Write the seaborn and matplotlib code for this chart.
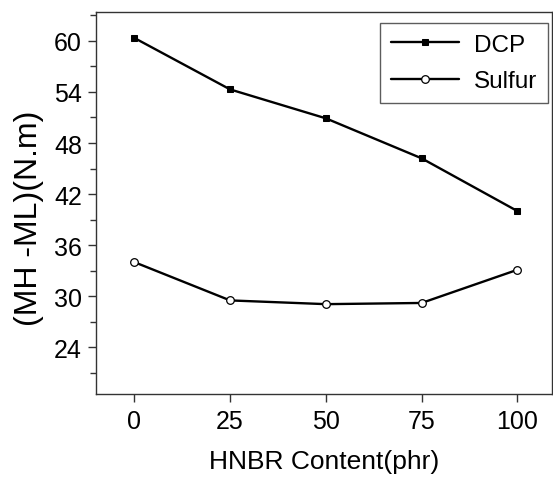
import pandas as pd
import matplotlib
matplotlib.use("Agg")
import matplotlib.pyplot as plt
from matplotlib.ticker import MultipleLocator
import seaborn as sns

hnbr = [0, 25, 50, 75, 100]
dcp = [60.35, 54.3, 50.9, 46.2, 40.0]
sulfur = [34.0, 29.5, 29.06, 29.2, 33.1]

sns.set_style("ticks")
plt.rcParams['font.family'] = ['Liberation Sans', 'DejaVu Sans']
plt.rcParams['text.color'] = 'black'
plt.rcParams['axes.labelcolor'] = 'black'

data = pd.DataFrame({
    "HNBR": hnbr * 2,
    "value": dcp + sulfur,
    "curing": ["DCP"] * 5 + ["Sulfur"] * 5,
})

fig = plt.figure(figsize=(5.53, 4.81), dpi=100)
ax = fig.add_axes([0.1736, 0.1788, 0.8244, 0.7942])

sns.lineplot(data=data[data.curing == "DCP"], x="HNBR", y="value", ax=ax,
             color="black", linewidth=1.7, marker="s", markersize=5,
             markerfacecolor="black", markeredgecolor="black", label="DCP")
sns.lineplot(data=data[data.curing == "Sulfur"], x="HNBR", y="value", ax=ax,
             color="black", linewidth=1.7, marker="o", markersize=5.5,
             markerfacecolor="white", markeredgecolor="black", markeredgewidth=0.9,
             label="Sulfur")

ax.set_xlim(-10, 109)
ax.set_ylim(18.5, 63.4)
ax.set_xticks(hnbr)
ax.set_yticks([24, 30, 36, 42, 48, 54, 60])
ax.yaxis.set_minor_locator(MultipleLocator(3))
ax.tick_params(axis="both", which="major", direction="out", length=6, width=1,
               labelsize=18, colors="#333333", labelcolor="black")
ax.tick_params(axis="y", which="minor", direction="out", length=4, width=1, colors="#333333")
ax.tick_params(axis="x", pad=5)
ax.tick_params(axis="y", pad=4)

for s in ax.spines.values():
    s.set_color("#333333")
    s.set_linewidth(1)

ax.set_xlabel("HNBR Content(phr)", fontsize=19, labelpad=11, color="black")
ax.set_ylabel("(MH -ML)(N.m)", fontsize=23, color="black")
ax.yaxis.set_label_coords(-0.115, 0.463)

leg = ax.legend(loc="upper right", fontsize=17.5, frameon=True, fancybox=False,
                handlelength=2.8, handletextpad=0.6, borderpad=0.45, labelspacing=0.6,
                borderaxespad=0, bbox_to_anchor=(0.991, 0.972))
leg.get_frame().set_edgecolor("#333333")
leg.get_frame().set_linewidth(1)
for t in leg.get_texts():
    t.set_color("black")

fig.savefig("out.png", dpi=100)
